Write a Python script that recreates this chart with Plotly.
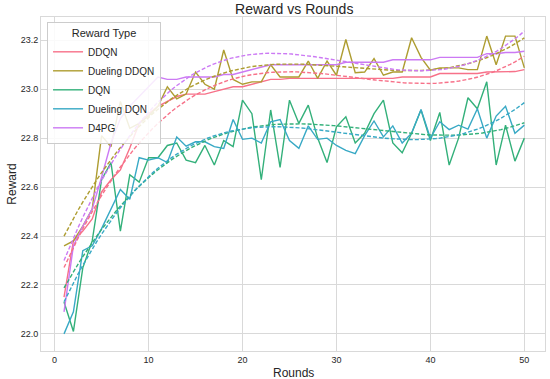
import numpy as np
import plotly.graph_objects as go

rounds = list(range(1, 51))

ddqn = [22.15, 22.38, 22.42, 22.47, 22.58, 22.63, 22.67, 22.76, 22.86, 22.90,
        22.93, 22.95, 22.97, 22.98, 22.98, 22.98, 22.99, 23.00, 23.01, 23.01,
        23.02, 23.03, 23.04, 23.04, 23.044, 23.044, 23.044, 23.044, 23.044, 23.044,
        23.044, 23.044, 23.044, 23.044, 23.044, 23.044, 23.05, 23.05, 23.05, 23.05,
        23.064, 23.064, 23.064, 23.064, 23.064, 23.07, 23.07, 23.07, 23.072, 23.08]

dueling_ddqn = [22.36, 22.38, 22.44, 22.51, 22.81, 22.765, 22.95, 22.84, 22.86, 22.89,
                22.93, 23.01, 22.96, 22.98, 23.07, 23.02, 23.00, 23.16, 23.04, 23.02,
                23.03, 23.03, 23.10, 23.05, 23.05, 23.05, 23.115, 23.044, 23.115, 23.057,
                23.203, 23.067, 23.07, 23.125, 23.057, 23.07, 23.07, 23.21, 23.13, 23.078,
                23.087, 23.087, 23.087, 23.08, 23.08, 23.217, 23.10, 23.217, 23.217, 23.087]

dqn = [22.13, 22.01, 22.27, 22.38, 22.63, 22.70, 22.42, 22.65, 22.62, 22.72,
       22.72, 22.77, 22.78, 22.71, 22.70, 22.77, 22.69, 22.79, 22.765, 22.955,
       22.90, 22.63, 22.915, 22.68, 22.955, 22.86, 22.935, 22.80, 22.70, 22.846,
       22.887, 22.78, 22.82, 22.90, 22.955, 22.78, 22.74, 22.82, 22.915, 22.79,
       22.905, 22.69, 22.80, 22.965, 22.92, 23.03, 22.69, 22.853, 22.706, 22.80]

dueling_dqn = [22.00, 22.09, 22.34, 22.36, 22.43, 22.51, 22.59, 22.55, 22.72, 22.71,
               22.72, 22.70, 22.805, 22.767, 22.785, 22.785, 22.765, 22.758, 22.876, 22.795,
               22.80, 22.78, 22.867, 22.876, 22.79, 22.758, 22.85, 22.795, 22.80, 22.77,
               22.75, 22.737, 22.81, 22.87, 22.805, 22.85, 22.78, 22.82, 22.917, 22.80,
               22.867, 22.835, 22.853, 22.837, 22.92, 22.80, 22.89, 22.93, 22.82, 22.853]

d4pg = [22.09, 22.36, 22.44, 22.51, 22.64, 22.78, 22.88, 22.93, 22.97, 23.01,
        23.05, 23.04, 23.04, 23.05, 23.05, 23.05, 23.05, 23.06, 23.06, 23.07,
        23.08, 23.09, 23.10, 23.10, 23.10, 23.10, 23.10, 23.10, 23.10, 23.10,
        23.11, 23.11, 23.11, 23.11, 23.11, 23.12, 23.12, 23.12, 23.12, 23.12,
        23.13, 23.13, 23.13, 23.13, 23.13, 23.145, 23.145, 23.15, 23.15, 23.155]

names = ["DDQN", "Dueling DDQN", "DQN", "Dueling DQN", "D4PG"]
colors = ["#f77189", "#ae9d31", "#33b07a", "#38a9c5", "#cc7af4"]
series = [ddqn, dueling_ddqn, dqn, dueling_dqn, d4pg]

fig = go.Figure()
x = np.array(rounds, dtype=float)
xs = np.linspace(x.min(), x.max(), 100)

for name, col, vals in zip(names, colors, series):
    fig.add_trace(go.Scatter(x=rounds, y=vals, mode="lines", name=name,
                             line=dict(color=col, width=1.4)))
for name, col, vals in zip(names, colors, series):
    coef = np.polyfit(x, np.array(vals), 3)
    fig.add_trace(go.Scatter(x=xs, y=np.polyval(coef, xs), mode="lines",
                             showlegend=False, hoverinfo="skip",
                             line=dict(color=col, width=1.4, dash="4px,2px")))

grid = "#d9d9d9"
fig.update_layout(
    width=550, height=379,
    margin=dict(l=41, r=5, t=17, b=28),
    paper_bgcolor="white", plot_bgcolor="white",
    font=dict(family="Liberation Sans, Arial, sans-serif", color="#262626", size=10),
    title=dict(text="Reward vs Rounds", x=0.535, xanchor="center", y=0.975, yanchor="middle",
               font=dict(size=14, color="#262626")),
    showlegend=True,
    legend=dict(x=0.012, y=0.985, xanchor="left", yanchor="top",
                bgcolor="rgba(255,255,255,0.85)", bordercolor="#cccccc", borderwidth=1,
                title=dict(text="Reward Type", font=dict(size=11), side="top center"),
                font=dict(size=10), itemwidth=30, tracegroupgap=0),
    xaxis=dict(range=[-1.45, 52.2], tickvals=[0, 10, 20, 30, 40, 50],
               showgrid=True, gridcolor=grid, gridwidth=1, zeroline=False,
               showline=True, linecolor=grid, linewidth=1, mirror=True,
               ticks="", tickfont=dict(size=9, color="#262626")),
    yaxis=dict(range=[21.93, 23.295], tickvals=[22.0, 22.2, 22.4, 22.6, 22.8, 23.0, 23.2],
               tickformat=".1f",
               showgrid=True, gridcolor=grid, gridwidth=1, zeroline=False,
               showline=True, linecolor=grid, linewidth=1, mirror=True,
               ticks="", tickfont=dict(size=9, color="#262626"),
               title=dict(text="Reward", font=dict(size=12, color="#262626"), standoff=1)),
    annotations=[dict(text="Rounds", xref="paper", yref="paper", x=0.5, y=0,
                      xanchor="center", yanchor="top", yshift=-13, showarrow=False,
                      font=dict(size=12, color="#262626"))],
)

fig.write_html("out.html", config={"displayModeBar": False},
               post_script="document.body.style.margin='0';")
